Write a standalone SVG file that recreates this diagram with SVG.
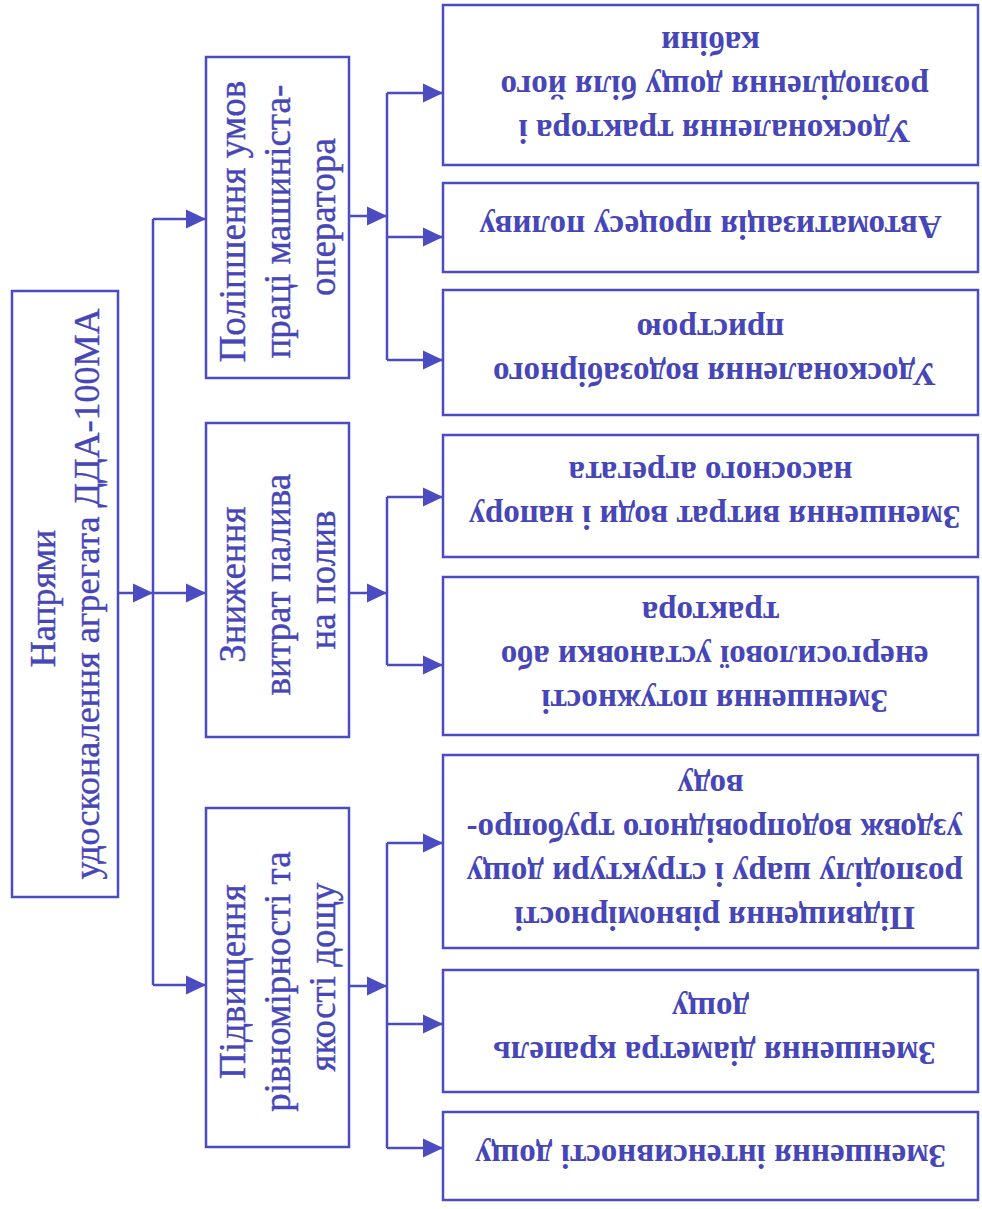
<svg xmlns="http://www.w3.org/2000/svg" width="982" height="1209" viewBox="0 0 982 1209">
  <style>
    .box { fill: #ffffff; stroke: #4b4bc2; stroke-width: 2.5; }
    .wire { fill: none; stroke: #4b4bc2; stroke-width: 2.5; }
    .main { font-family: "Liberation Serif", "Times New Roman", serif; font-size: 36px; fill: #4646b8; stroke: #4646b8; stroke-width: 0.4; text-anchor: middle; }
    .mid { font-size: 37px; }
    .leaf { font-family: "Liberation Serif", "Times New Roman", serif; font-size: 33px; font-weight: bold; fill: #4646b8; text-anchor: middle; }
  </style>
  <defs>
    <marker id="ah" markerUnits="userSpaceOnUse" markerWidth="20" markerHeight="20" viewBox="0 0 20 20" refX="20" refY="10" orient="auto">
      <path d="M0,0.5 L20,10 L0,19.5 z" fill="#4b4bc2"/>
    </marker>
  </defs>
  <rect width="982" height="1209" fill="#ffffff"/>

  <!-- connectors -->
  <g id="connectors">
    <path class="wire" d="M118,593 H153" marker-end="url(#ah)"/>
    <path class="wire" d="M153,219 V985"/>
    <path class="wire" d="M153,219 H206" marker-end="url(#ah)"/>
    <path class="wire" d="M153,593 H206" marker-end="url(#ah)"/>
    <path class="wire" d="M153,985 H206" marker-end="url(#ah)"/>

    <path class="wire" d="M349,216 H387" marker-end="url(#ah)"/>
    <path class="wire" d="M387,93 V360"/>
    <path class="wire" d="M387,93 H443" marker-end="url(#ah)"/>
    <path class="wire" d="M387,237 H443" marker-end="url(#ah)"/>
    <path class="wire" d="M387,360 H443" marker-end="url(#ah)"/>

    <path class="wire" d="M349,593 H387" marker-end="url(#ah)"/>
    <path class="wire" d="M387,497 V665"/>
    <path class="wire" d="M387,497 H443" marker-end="url(#ah)"/>
    <path class="wire" d="M387,665 H443" marker-end="url(#ah)"/>

    <path class="wire" d="M349,986 H387" marker-end="url(#ah)"/>
    <path class="wire" d="M387,843 V1148"/>
    <path class="wire" d="M387,843 H443" marker-end="url(#ah)"/>
    <path class="wire" d="M387,1024 H443" marker-end="url(#ah)"/>
    <path class="wire" d="M387,1148 H443" marker-end="url(#ah)"/>
  </g>

  <!-- root -->
  <g id="root">
    <rect class="box" x="12" y="291" width="106" height="606"/>
    <text class="main" transform="rotate(-90 65 594)">
      <tspan x="65" y="584">Напрями</tspan>
      <tspan x="65" y="628">удосконалення агрегата ДДА-100МА</tspan>
    </text>
  </g>

  <!-- second level -->
  <g id="operator">
    <rect class="box" x="206" y="57" width="143" height="321"/>
    <text class="main mid" transform="rotate(-90 277.5 217)">
      <tspan x="277.5" y="184">Поліпшення умов</tspan>
      <tspan x="277.5" y="229">праці машиніста-</tspan>
      <tspan x="277.5" y="274">оператора</tspan>
    </text>
  </g>
  <g id="fuel">
    <rect class="box" x="206" y="423" width="143" height="314"/>
    <text class="main mid" transform="rotate(-90 277.5 580)">
      <tspan x="277.5" y="547">Зниження</tspan>
      <tspan x="277.5" y="592">витрат палива</tspan>
      <tspan x="277.5" y="637">на полив</tspan>
    </text>
  </g>
  <g id="quality">
    <rect class="box" x="206" y="808" width="143" height="339"/>
    <text class="main mid" transform="rotate(-90 277.5 977)">
      <tspan x="277.5" y="944">Підвищення</tspan>
      <tspan x="277.5" y="989">рівномірності та</tspan>
      <tspan x="277.5" y="1034">якості дощу</tspan>
    </text>
  </g>

  <!-- third level -->
  <g id="cabin">
    <rect class="box" x="443" y="5" width="535" height="160"/>
    <text class="leaf" transform="rotate(180 710.5 85)">
      <tspan x="710.5" y="50">Удосконалення трактора і</tspan>
      <tspan x="710.5" y="94">розподілення дощу біля його</tspan>
      <tspan x="710.5" y="138">кабіни</tspan>
    </text>
  </g>
  <g id="automation">
    <rect class="box" x="443" y="183" width="535" height="89"/>
    <text class="leaf" transform="rotate(180 710.5 227.5)">
      <tspan x="710.5" y="239">Автоматизація процесу поливу</tspan>
    </text>
  </g>
  <g id="intake">
    <rect class="box" x="443" y="290" width="535" height="125"/>
    <text class="leaf" transform="rotate(180 710.5 352.5)">
      <tspan x="710.5" y="342">Удосконалення водозабірного</tspan>
      <tspan x="710.5" y="386">пристрою</tspan>
    </text>
  </g>
  <g id="water">
    <rect class="box" x="443" y="435" width="535" height="122"/>
    <text class="leaf" transform="rotate(180 710.5 496)">
      <tspan x="710.5" y="486">Зменшення витрат води і напору</tspan>
      <tspan x="710.5" y="530">насосного агрегата</tspan>
    </text>
  </g>
  <g id="power">
    <rect class="box" x="443" y="577" width="535" height="158"/>
    <text class="leaf" transform="rotate(180 710.5 656)">
      <tspan x="710.5" y="622">Зменшення потужності</tspan>
      <tspan x="710.5" y="666">енергосилової установки або</tspan>
      <tspan x="710.5" y="710">трактора</tspan>
    </text>
  </g>
  <g id="uniformity">
    <rect class="box" x="443" y="755" width="535" height="193"/>
    <text class="leaf" transform="rotate(180 710.5 851.5)">
      <tspan x="710.5" y="796">Підвищення рівномірності</tspan>
      <tspan x="710.5" y="840">розподілу шару і структури дощу</tspan>
      <tspan x="710.5" y="884">уздовж водопровідного трубопро-</tspan>
      <tspan x="710.5" y="928">воду</tspan>
    </text>
  </g>
  <g id="droplets">
    <rect class="box" x="443" y="970" width="535" height="122"/>
    <text class="leaf" transform="rotate(180 710.5 1031)">
      <tspan x="710.5" y="1020">Зменшення діаметра крапель</tspan>
      <tspan x="710.5" y="1064">дощу</tspan>
    </text>
  </g>
  <g id="intensity">
    <rect class="box" x="443" y="1112" width="535" height="88"/>
    <text class="leaf" transform="rotate(180 710.5 1156)">
      <tspan x="710.5" y="1167">Зменшення інтенсивності дощу</tspan>
    </text>
  </g>
</svg>
